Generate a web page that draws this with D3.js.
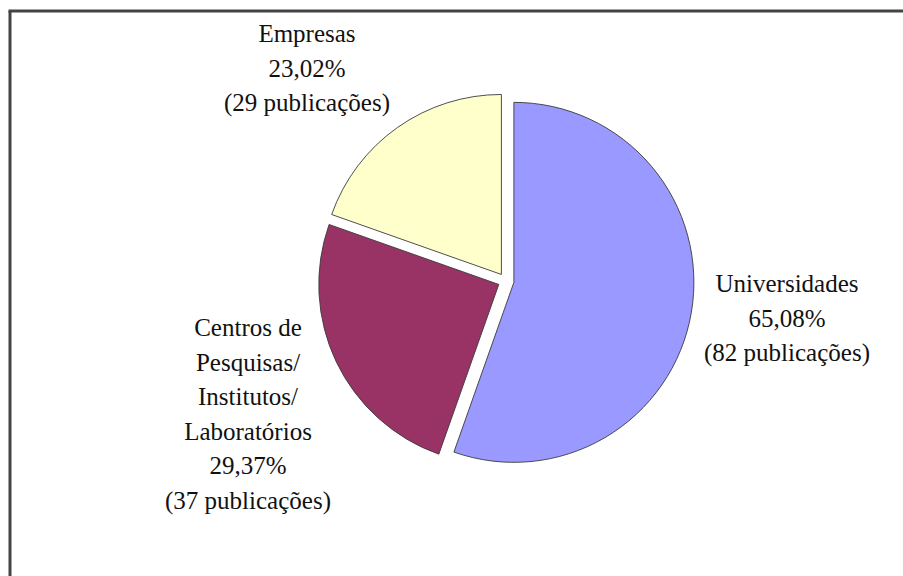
<!DOCTYPE html>
<html>
<head>
<meta charset="utf-8">
<script src="https://cdn.jsdelivr.net/npm/d3@7"></script>
<style>
    html, body { margin: 0; background: #fff; overflow: hidden; }
    svg { display: block; font-family: "Liberation Serif", "Times New Roman", serif; }
</style>
</head>
<body>
<svg id="chart" width="903" height="576"></svg>
<script>
    // data
    var categories = ["Universidades", "Centros de Pesquisas/ Institutos/ Laboratórios", "Empresas"];
    var publicacoes = [82, 37, 29];
    var percentuais = ["65,08%", "29,37%", "23,02%"];
    var cores = ["#9999ff", "#993366", "#ffffcc"];

    var width = 903, height = 576;
    var cx = 506, cy = 281, radius = 180, explode = 8;

    var svg = d3.select("#chart");

    // frame, only top and left edges are visible
    svg.append("line")
        .attr("x1", 10).attr("y1", 11).attr("x2", 10).attr("y2", height)
        .attr("stroke", "#444").attr("stroke-width", 3);
    svg.append("line")
        .attr("x1", 8.5).attr("y1", 11).attr("x2", width).attr("y2", 11)
        .attr("stroke", "#444").attr("stroke-width", 3);

    var pie = d3.pie().sort(null).value(d => d);
    var arcs = pie(publicacoes);
    var arc = d3.arc().innerRadius(0).outerRadius(radius);

    var g = svg.append("g").attr("transform", "translate(" + cx + "," + cy + ")");

    g.selectAll("path")
        .data(arcs)
        .enter()
        .append("path")
        .attr("d", arc)
        .attr("fill", (d, i) => cores[i])
        .attr("stroke", "#3a3a3a")
        .attr("stroke-width", 0.9)
        .attr("transform", function (d) {
            var a = (d.startAngle + d.endAngle) / 2;
            return "translate(" + (Math.sin(a) * explode) + "," + (-Math.cos(a) * explode) + ")";
        });

    // label anchors (centre x, first baseline)
    var labelPos = [[787, 292], [248, 336], [307, 42]];
    var lineH = 34.5;

    categories.forEach(function (c, i) {
        var lines = [c];
        if (i == 1) lines = ["Centros de", "Pesquisas/", "Institutos/", "Laboratórios"];
        lines = lines.concat([percentuais[i], "(" + publicacoes[i] + " publicações)"]);

        lines.forEach(function (s, j) {
            svg.append("text")
                .attr("x", labelPos[i][0])
                .attr("y", labelPos[i][1] + j * lineH)
                .attr("text-anchor", "middle")
                .attr("fill", "#111")
                .style("font-family", "Liberation Serif")
                .attr("font-size", 25)
                .text(s);
        });
    });
</script>
</body>
</html>
